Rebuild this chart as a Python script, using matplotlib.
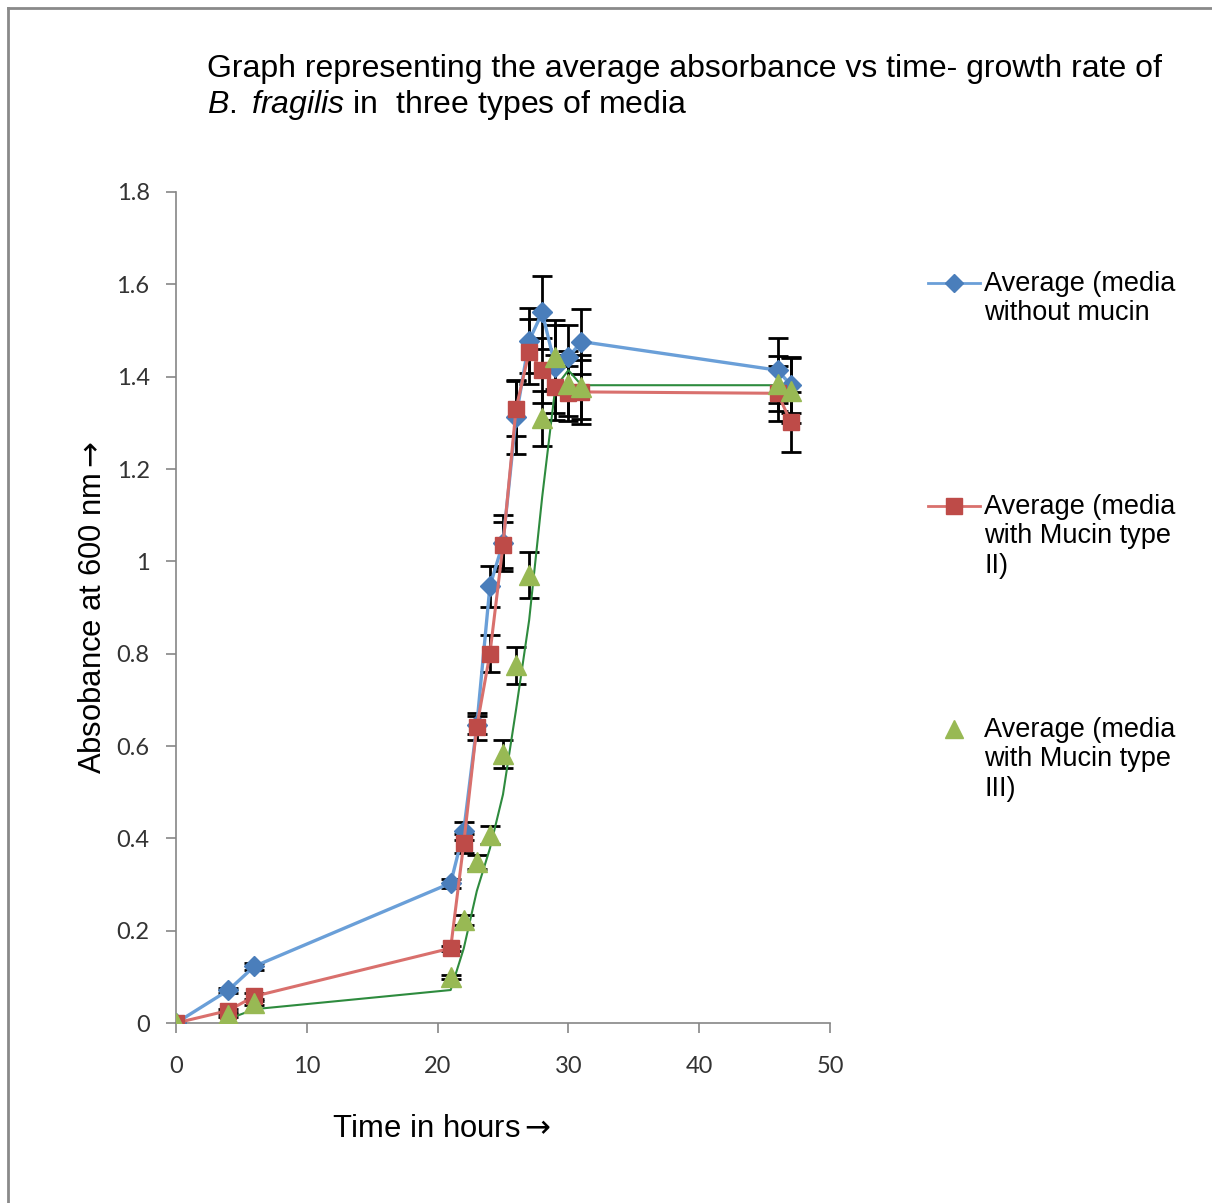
import numpy as np
import matplotlib.pyplot as plt
from matplotlib.lines import Line2D

plt.rcParams['font.family'] = ['Liberation Sans', 'DejaVu Sans']
plt.rcParams['mathtext.fontset'] = 'custom'
plt.rcParams['mathtext.rm'] = 'Liberation Sans'
plt.rcParams['mathtext.it'] = 'Liberation Sans:italic'
plt.rcParams['mathtext.sf'] = 'DejaVu Sans'

hours = [0, 4, 6, 21, 22, 23, 24, 25, 26, 27, 28, 29, 30, 31, 46, 47]

no_mucin = [0, 0.071, 0.123, 0.303, 0.416, 0.645, 0.946, 1.04, 1.313, 1.478, 1.539, 1.422, 1.442, 1.476, 1.414, 1.382]
no_mucin_err = [0, 0.005, 0.008, 0.01, 0.02, 0.02, 0.045, 0.06, 0.08, 0.07, 0.078, 0.1, 0.07, 0.071, 0.07, 0.06]

mucin2 = [0, 0.027, 0.058, 0.162, 0.389, 0.642, 0.80, 1.035, 1.331, 1.454, 1.414, 1.377, 1.364, 1.367, 1.364, 1.302]
mucin2_err = [0, 0.004, 0.006, 0.005, 0.02, 0.03, 0.04, 0.05, 0.06, 0.07, 0.07, 0.07, 0.06, 0.07, 0.06, 0.065]

mucin3 = [0, 0.017, 0.043, 0.100, 0.223, 0.349, 0.407, 0.583, 0.775, 0.970, 1.310, 1.443, 1.385, 1.378, 1.385, 1.370]
mucin3_err = [0, 0.003, 0.004, 0.005, 0.01, 0.015, 0.02, 0.03, 0.04, 0.05, 0.06, 0.07, 0.07, 0.07, 0.06, 0.07]

labels = ['Average (media\nwithout mucin',
          'Average (media\nwith Mucin type\nII)',
          'Average (media\nwith Mucin type\nIII)']

# 2 period moving average trendline of the mucin III series
trend = np.convolve(mucin3, [0.5, 0.5], mode='valid')

fig = plt.figure(figsize=(12.12, 12.03), dpi=100)
ax = fig.add_axes([0.1452, 0.1496, 0.5396, 0.6908])

blue = '#4a7ebb'
red = '#be4b48'
green = '#98b954'

for vals, errs in [(no_mucin, no_mucin_err), (mucin2, mucin2_err), (mucin3, mucin3_err)]:
    ax.errorbar(hours, vals, yerr=errs, fmt='none', ecolor='black', elinewidth=2,
                capsize=7, capthick=2, zorder=2)

ax.plot(hours[1:], trend, color='#2e8b3e', lw=1.5, zorder=3)
ax.plot(hours, no_mucin, color='#6a9fd8', lw=2.4, marker='D', ms=10, mfc=blue, mec=blue, zorder=4)
ax.plot(hours, mucin2, color='#d9706d', lw=2.2, marker='s', ms=12, mfc=red, mec=red, zorder=5)
ax.plot(hours, mucin3, ls='none', marker='^', ms=14, mfc=green, mec=green, zorder=6)

ax.set_xlim(0, 50)
ax.set_ylim(0, 1.8)
ax.set_xticks(range(0, 51, 10))
ax.set_yticks(np.arange(0, 1.81, 0.2))
ax.set_yticklabels(['0', '0.2', '0.4', '0.6', '0.8', '1', '1.2', '1.4', '1.6', '1.8'])
for s in ['top', 'right']:
    ax.spines[s].set_visible(False)
for s in ['left', 'bottom']:
    ax.spines[s].set_color('#868686')
    ax.spines[s].set_linewidth(1.2)
ax.tick_params(colors='#868686', labelcolor='#333333', labelsize=17, length=7, width=1.2)
ax.tick_params(axis='y', pad=12)
ax.tick_params(axis='x', pad=17)
for t in ax.get_xticklabels() + ax.get_yticklabels():
    t.set_family(['Lato', 'DejaVu Sans'])

ax.set_xlabel(r'Time in hours$\mathsf{\rightarrow}$', fontsize=22.3)
ax.set_ylabel(r'Absobance at 600 nm$\mathsf{\rightarrow}$', fontsize=22.3)
ax.xaxis.set_label_coords(0.407, -0.11)
ax.yaxis.set_label_coords(-0.104, 0.5)

fig.text(0.171, 0.943, 'Graph representing the average absorbance vs time- growth rate of',
         fontsize=23, va='center')
fig.text(0.171, 0.913, r'$\it{B.\ fragilis}$ in  three types of media', fontsize=23, va='center')

# legend drawn by hand so the marker sits on the first line of each label
styles = [dict(color='#6a9fd8', lw=2, marker='D', ms=9, mfc=blue, mec=blue),
          dict(color='#d9706d', lw=2, marker='s', ms=11, mfc=red, mec=red),
          dict(ls='none', marker='^', ms=13, mfc=green, mec=green)]
for i, (lab, st) in enumerate(zip(labels, styles)):
    y = 1 - (283 + 223 * i) / 1203
    fig.add_artist(Line2D([928 / 1212, 954 / 1212, 980 / 1212], [y, y, y], markevery=[1],
                          transform=fig.transFigure, **st))
    fig.text(984 / 1212, y + 12 / 1203, lab, fontsize=19.5, va='top', linespacing=1.17)

# frame lines left and top
fig.add_artist(Line2D([8 / 1212, 8 / 1212], [0, 1 - 8 / 1203], transform=fig.transFigure,
                      color='#8a8a8a', lw=2))
fig.add_artist(Line2D([8 / 1212, 1], [1 - 8 / 1203, 1 - 8 / 1203], transform=fig.transFigure,
                      color='#8a8a8a', lw=2))

fig.savefig('out.png')
